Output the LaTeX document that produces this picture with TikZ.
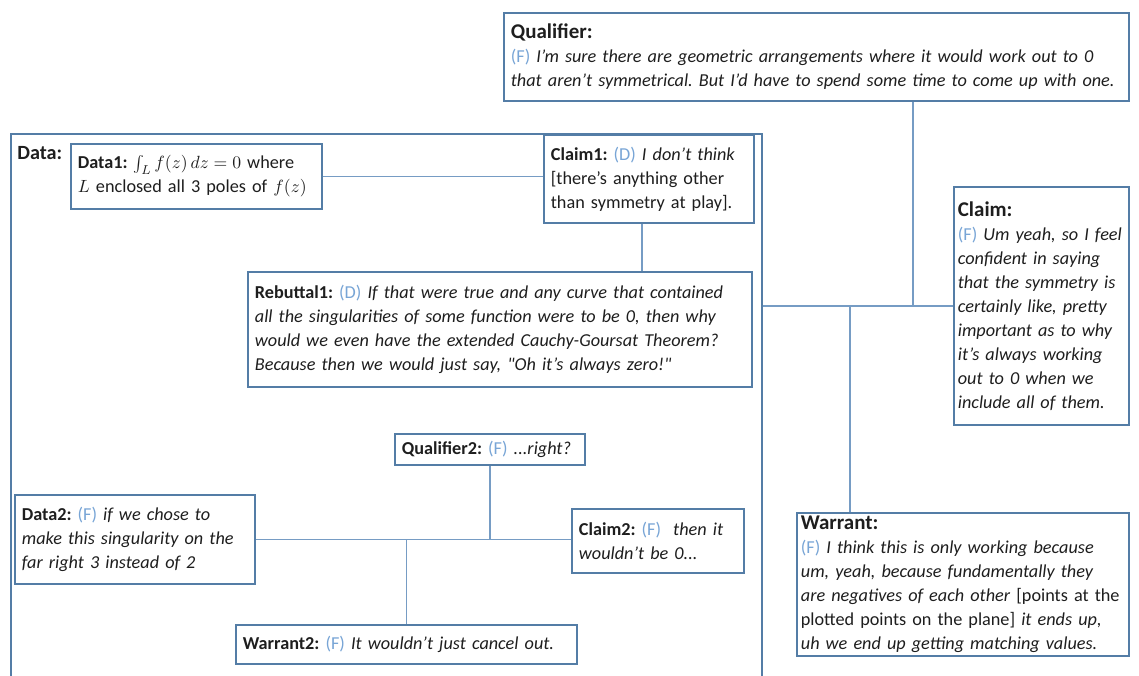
\documentclass[tikz,border=0pt]{standalone}
\usepackage{fontspec}
\setmainfont{Carlito}
\usepackage{tikz}
\frenchspacing

\definecolor{boxblue}{RGB}{84,125,166}
\definecolor{linkblue}{RGB}{118,156,196}
\definecolor{tagblue}{RGB}{120,165,214}
\definecolor{inkgray}{RGB}{30,30,30}

\newlength\pxu
\setlength\pxu{0.62pt}
\newcommand\who[1]{{\color{tagblue}(#1)}}
\newcommand\head[1]{{\fontsize{13}{16}\selectfont\bfseries #1}}

\tikzset{
  box/.style={draw=boxblue, line width=1.1pt, fill=white, inner xsep=7\pxu, inner ysep=3\pxu,
    align=left, text=inkgray, anchor=north west, font=\fontsize{11.3}{14.9}\selectfont},
  sized/.style 2 args={text width=#1\pxu, minimum height=#2\pxu},
  tight/.style={inner xsep=4\pxu},
  link/.style={draw=linkblue, line width=1pt},
}

\begin{document}
\begin{tikzpicture}[x=\pxu, y=-\pxu]
  \useasboundingbox (0,0) rectangle (1139,676);
  \clip (0,0) rectangle (1139,676);

  % outer data frame, open at the bottom edge
  \node[box, minimum width=751\pxu, minimum height=600\pxu, inner sep=0pt] (data) at (10,133) {};
  \node[anchor=west, inner sep=0pt, text=inkgray, font=\fontsize{12.5}{15}\selectfont\bfseries] (datalbl) at (17,153) {Data:};

  \node[box, sized={611}{88}] (qualifier) at (503,12)
    {\head{Qualifier:}\\
     \who{F} \textit{I'm sure there are geometric arrangements where it would work out to 0}\\
     \textit{that aren't symmetrical. But I'd have to spend some time to come up with one.}};
  \node[box, tight, sized={167}{238}] (claim) at (953,186)
    {\head{Claim:}\\
     \who{F} \textit{Um yeah, so I feel}\\
     \textit{confident in saying}\\
     \textit{that the symmetry is}\\
     \textit{certainly like, pretty}\\
     \textit{important as to why}\\
     \textit{it's always working}\\
     \textit{out to 0 when we}\\
     \textit{include all of them.}};
  \node[box, tight, sized={324}{142}] (warrant) at (796,512)
    {\head{Warrant:}\\
     \who{F} \textit{I think this is only working because}\\
     \textit{um, yeah, because fundamentally they}\\
     \textit{are negatives of each other} [points at the\\
     plotted points on the plane] \textit{it ends up,}\\
     \textit{uh we end up getting matching values.}};

  % inside the data frame
  \node[box, sized={237}{65}] (data1) at (70,143)
    {\textbf{Data1:} $\int_L f(z)\,dz=0$ where\\
     $L$ enclosed all 3 poles of $f(z)$};
  \node[box, sized={196}{88}] (claim1) at (543,134)
    {\textbf{Claim1:} \who{D} \textit{I don't think}\\
     {[}there's anything other\\
     than symmetry at play].};
  \node[box, sized={490}{115}] (rebuttal1) at (247,271)
    {\textbf{Rebuttal1:} \who{D} \textit{If that were true and any curve that contained}\\
     \textit{all the singularities of some function were to be 0, then why}\\
     \textit{would we even have the extended Cauchy-Goursat Theorem?}\\
     \textit{Because then we would just say, \textquotedbl Oh it's always zero!\textquotedbl}};
  \node[box, sized={176}{31}] (qual2) at (394,433)
    {\textbf{Qualifier2:} \who{F} \textit{...right?}};
  \node[box, sized={226}{89}] (data2) at (14,494)
    {\textbf{Data2:} \who{F} \textit{if we chose to}\\
     \textit{make this singularity on the}\\
     \textit{far right 3 instead of 2}};
  \node[box, sized={158}{64}] (claim2) at (571,508)
    {\textbf{Claim2:} \who{F}\ \ \textit{then it}\\
     \textit{wouldn't be 0...}};
  \node[box, sized={327}{39}] (warrant2) at (235,624)
    {\textbf{Warrant2:} \who{F} \textit{It wouldn't just cancel out.}};

  % connectors
  \coordinate (hub) at (913,305);
  \coordinate (wfoot) at (850,305);
  \coordinate (c1foot) at ([xshift=-7\pxu]claim1.south);
  \draw[link] (data1.east) -- (data1.east -| claim1.west);
  \draw[link] (c1foot) -- (c1foot |- rebuttal1.north);
  \draw[link] (qualifier.south -| hub) -- (hub);
  \draw[link] (claim.west) -- (claim.west -| data.east);
  \draw[link] (wfoot) -- (wfoot |- warrant.north);
  \draw[link] (data2.east) -- (data2.east -| claim2.west);
  \draw[link] (qual2.south) -- (qual2.south |- data2.east);
  \draw[link] (warrant2.north) -- (warrant2.north |- data2.east);
\end{tikzpicture}
\end{document}
